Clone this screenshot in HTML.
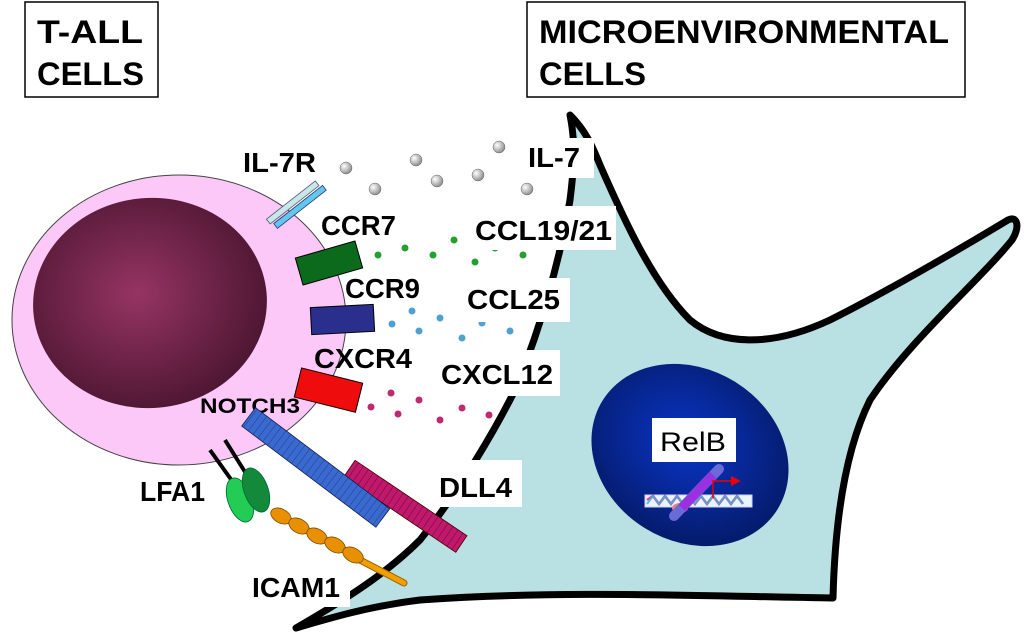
<!DOCTYPE html>
<html><head><meta charset="utf-8"><style>
html,body{margin:0;padding:0;background:#fff;width:1024px;height:635px;overflow:hidden}
svg{display:block}
text{font-family:"Liberation Sans",Arial,sans-serif;font-weight:bold;fill:#000}
</style></head><body>
<svg width="1024" height="635" viewBox="0 0 1024 635" xmlns="http://www.w3.org/2000/svg">
<defs>
<radialGradient id="nuc" cx="0.45" cy="0.45" r="0.6">
<stop offset="0" stop-color="#963463"/><stop offset="1" stop-color="#4a1530"/></radialGradient>
<radialGradient id="nuc2" cx="0.45" cy="0.45" r="0.6">
<stop offset="0" stop-color="#0a35c8"/><stop offset="1" stop-color="#041a66"/></radialGradient>
<radialGradient id="ball" cx="0.35" cy="0.35" r="0.7">
<stop offset="0" stop-color="#fff"/><stop offset="1" stop-color="#888"/></radialGradient>
<pattern id="stripeB" width="6" height="30" patternUnits="userSpaceOnUse"><rect width="6" height="30" fill="#3a6ad0"/><line x1="0" y1="0" x2="0" y2="30" stroke="#1d3f8a" stroke-width="1"/></pattern>
<pattern id="stripeM" width="6" height="30" patternUnits="userSpaceOnUse"><rect width="6" height="30" fill="#c0186a"/><line x1="0" y1="0" x2="0" y2="30" stroke="#6a0838" stroke-width="1"/></pattern>
</defs>

<path d="M570,115 C585,130 592,145 600,165 C620,210 650,280 690,320 C720,345 770,348 830,320 C880,295 950,255 1008,220 C1018,215 1020,228 1012,240 C980,280 910,340 870,400 C845,450 835,520 833,598 C700,596 560,590 420,600 C370,606 330,618 296,628 C330,608 380,580 420,540 C460,490 495,430 515,390 C540,330 560,260 570,200 C575,160 575,140 570,115 Z" fill="#b9e0e2" stroke="#000" stroke-width="7" stroke-linejoin="round"/>

<ellipse cx="690" cy="455" rx="103" ry="86" transform="rotate(32 690 455)" fill="url(#nuc2)"/>
<rect x="652" y="418" width="84" height="44" fill="#fff"/>
<text x="660" y="451" font-size="27" textLength="66" lengthAdjust="spacingAndGlyphs" style="font-weight:normal">RelB</text>
<rect x="645" y="495" width="107" height="12" fill="#e8f4ff" stroke="#d0d0ff"/>
<path d="M647,500 l6,-4 l6,8 l6,-8 l6,8 l6,-8 l6,8 l6,-8 l6,8 l6,-8 l6,8 l6,-8 l6,8 l6,-8 l6,8 l6,-8 l6,8" stroke="#e04a90" stroke-width="2.5" fill="none"/>
<path d="M647,504 l6,-8 l6,8 l6,-8 l6,8 l6,-8 l6,8 l6,-8 l6,8 l6,-8 l6,8 l6,-8 l6,8 l6,-8 l6,8 l6,-8 l6,8" stroke="#40b0e0" stroke-width="2" fill="none" opacity="0.8"/>
<ellipse cx="680" cy="508" rx="8" ry="5" fill="#e88080"/>
<line x1="674" y1="516" x2="719" y2="469" stroke="#6a6ad8" stroke-width="10" stroke-linecap="round"/>
<line x1="682" y1="508" x2="713" y2="475" stroke="#9a30e0" stroke-width="9"/>
<polyline points="713,498 713,481 732,481" stroke="#e00" stroke-width="1.5" fill="none"/>
<polygon points="731,476 741,481 731,486" fill="#e00"/>

<ellipse cx="179" cy="320" rx="167" ry="145" fill="#fbc8f8" stroke="#444" stroke-width="1"/>
<ellipse cx="150" cy="303" rx="117" ry="105" transform="rotate(-5 150 303)" fill="url(#nuc)"/>

<rect x="25" y="2" width="133" height="95" fill="#fff" stroke="#000" stroke-width="1.5"/>
<text x="37" y="43" font-size="32" textLength="106" lengthAdjust="spacingAndGlyphs">T-ALL</text>
<text x="37" y="85" font-size="32" textLength="107" lengthAdjust="spacingAndGlyphs">CELLS</text>
<rect x="527" y="2" width="438" height="95" fill="#fff" stroke="#000" stroke-width="1.5"/>
<text x="539" y="43" font-size="32" textLength="410" lengthAdjust="spacingAndGlyphs">MICROENVIRONMENTAL</text>
<text x="539" y="85" font-size="32" textLength="107" lengthAdjust="spacingAndGlyphs">CELLS</text>

<g fill="url(#ball)" stroke="#666" stroke-width="0.5">
<circle cx="346" cy="168" r="6"/><circle cx="375" cy="189" r="6"/><circle cx="416" cy="160" r="6"/><circle cx="437" cy="181" r="6"/><circle cx="478" cy="175" r="6"/><circle cx="499" cy="147" r="6"/><circle cx="527" cy="189" r="6"/>
</g>
<g fill="#22a030"><circle cx="378" cy="255" r="3.5"/><circle cx="405" cy="248" r="3.5"/><circle cx="433" cy="255" r="3.5"/><circle cx="454" cy="240" r="3.5"/><circle cx="475" cy="262" r="3.5"/><circle cx="495" cy="248" r="3.5"/><circle cx="523" cy="255" r="3.5"/></g>
<g fill="#50a0d0"><circle cx="392" cy="324" r="3.5"/><circle cx="412" cy="311" r="3.5"/><circle cx="419" cy="331" r="3.5"/><circle cx="440" cy="318" r="3.5"/><circle cx="462" cy="338" r="3.5"/><circle cx="482" cy="323" r="3.5"/><circle cx="510" cy="331" r="3.5"/></g>
<g fill="#c02870"><circle cx="371" cy="407" r="3.5"/><circle cx="391" cy="393" r="3.5"/><circle cx="398" cy="414" r="3.5"/><circle cx="419" cy="400" r="3.5"/><circle cx="440" cy="420" r="3.5"/><circle cx="462" cy="408" r="3.5"/><circle cx="489" cy="415" r="3.5"/></g>

<rect x="522" y="138" width="72" height="40" fill="#fff"/>
<text x="528" y="167" font-size="28" textLength="52" lengthAdjust="spacingAndGlyphs">IL-7</text>
<rect x="468" y="206" width="148" height="44" fill="#fff"/>
<text x="475" y="240" font-size="28" textLength="137" lengthAdjust="spacingAndGlyphs">CCL19/21</text>
<rect x="460" y="278" width="110" height="44" fill="#fff"/>
<text x="467" y="309" font-size="28" textLength="93" lengthAdjust="spacingAndGlyphs">CCL25</text>
<rect x="436" y="350" width="124" height="46" fill="#fff"/>
<text x="441" y="384" font-size="28" textLength="112" lengthAdjust="spacingAndGlyphs">CXCL12</text>
<rect x="434" y="460" width="88" height="47" fill="#fff"/>
<text x="439" y="497" font-size="28" textLength="73" lengthAdjust="spacingAndGlyphs">DLL4</text>
<rect x="246" y="563" width="104" height="44" fill="#fff"/>
<text x="252" y="597" font-size="28" textLength="88" lengthAdjust="spacingAndGlyphs">ICAM1</text>
<text x="243" y="172" font-size="28" textLength="73" lengthAdjust="spacingAndGlyphs">IL-7R</text>
<text x="321" y="235" font-size="28" textLength="75" lengthAdjust="spacingAndGlyphs">CCR7</text>
<text x="345" y="298" font-size="28" textLength="75" lengthAdjust="spacingAndGlyphs">CCR9</text>
<text x="314" y="368" font-size="28" textLength="98" lengthAdjust="spacingAndGlyphs">CXCR4</text>
<text x="200" y="413" font-size="21" textLength="100" lengthAdjust="spacingAndGlyphs">NOTCH3</text>
<text x="140" y="501" font-size="28" textLength="65" lengthAdjust="spacingAndGlyphs">LFA1</text>

<g transform="rotate(-38 295 207)">
<rect x="265" y="199" width="62" height="6" fill="#c8e8e8" stroke="#557" stroke-width="0.8"/>
<rect x="268" y="207" width="62" height="6" fill="#60c8f0" stroke="#336" stroke-width="0.8"/>
</g>
<rect x="298" y="249" width="62" height="28" transform="rotate(-16 329 263)" fill="#0b6a1c" stroke="#000" stroke-width="1"/>
<rect x="311" y="306" width="63" height="27" transform="rotate(-3 342 320)" fill="#2a2e8c" stroke="#000" stroke-width="1"/>
<rect x="297" y="375" width="63" height="30" transform="rotate(14 328 390)" fill="#ee0c0c" stroke="#000" stroke-width="1"/>

<rect x="338" y="496" width="135" height="20" transform="rotate(34 405 506)" fill="url(#stripeM)" stroke="#400" stroke-width="0.8"/>
<rect x="232" y="456" width="168" height="23" transform="rotate(37 316 467)" fill="url(#stripeB)" stroke="#102050" stroke-width="0.8"/>

<line x1="210" y1="450" x2="235" y2="485" stroke="#000" stroke-width="4"/>
<line x1="225" y1="440" x2="245" y2="472" stroke="#000" stroke-width="4"/>
<ellipse cx="240" cy="500" rx="12" ry="23" transform="rotate(-20 240 500)" fill="#22cc55" stroke="#063" stroke-width="0.8"/>
<ellipse cx="256" cy="490" rx="12" ry="23" transform="rotate(-20 256 490)" fill="#128a3a" stroke="#063" stroke-width="0.8"/>

<line x1="360" y1="560" x2="404" y2="583" stroke="#a06000" stroke-width="7" stroke-linecap="round"/>
<line x1="360" y1="560" x2="404" y2="583" stroke="#f0a000" stroke-width="5" stroke-linecap="round"/>
<g fill="#e89000" stroke="#7a4800" stroke-width="0.8">
<ellipse cx="281" cy="516" rx="11" ry="7" transform="rotate(28 281 516)"/>
<ellipse cx="299" cy="526" rx="11" ry="7" transform="rotate(28 299 526)"/>
<ellipse cx="317" cy="536" rx="11" ry="7" transform="rotate(28 317 536)"/>
<ellipse cx="335" cy="545" rx="11" ry="7" transform="rotate(28 335 545)"/>
<ellipse cx="353" cy="555" rx="11" ry="7" transform="rotate(28 353 555)"/>
</g>
</svg>
</body></html>
